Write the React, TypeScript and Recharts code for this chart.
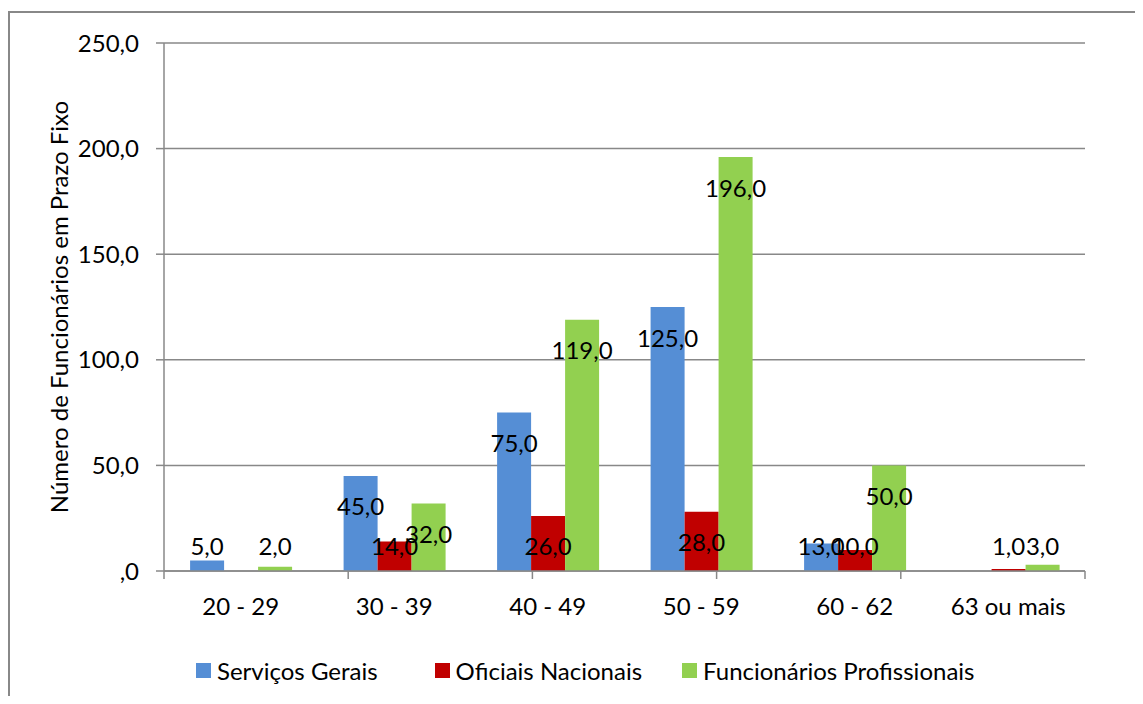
import React from 'react';
import { BarChart, Bar, XAxis, YAxis, CartesianGrid, Legend } from 'recharts';

const categories = ['20 - 29', '30 - 39', '40 - 49', '50 - 59', '60 - 62', '63 ou mais'];
const servicosGerais = [5, 45, 75, 125, 13, 0];
const oficiaisNacionais = [0, 14, 26, 28, 10, 1];
const funcionariosProfissionais = [2, 32, 119, 196, 50, 3];
const yTicks = [0, 50, 100, 150, 200, 250];
const boundaryTicks = [0, 1, 2, 3, 4, 5, 6];

const seriesNames = ['Serviços Gerais', 'Oficiais Nacionais', 'Funcionários Profissionais'];
const colors = ['#558ED5', '#C00000', '#92D050'];

const GRAY = '#888888';
const FONT = 'Lato, "Noto Sans", sans-serif';
const FS = 24;

const data = categories.map((name, i) => ({
  name,
  [seriesNames[0]]: servicosGerais[i],
  [seriesNames[1]]: oficiaisNacionais[i],
  [seriesNames[2]]: funcionariosProfissionais[i],
}));

// Excel-style number format: 0 -> ",0", 45 -> "45,0"
const fmt = (v: number) => (v === 0 ? ',0' : v.toFixed(1).replace('.', ','));

// labels sit inside the top of the bar, but never lower than a fixed line above the axis
const renderLabel = (props: any) => {
  const { x, y, width, height, value } = props;
  if (!value) return null;
  const bx = Number(x);
  const by = Number(y);
  const bottom = by + Number(height);
  const cy = Math.min(by + 30, bottom - 26);
  return (
    <text
      x={bx + Number(width) / 2}
      y={cy}
      textAnchor="middle"
      dominantBaseline="central"
      fontSize={FS}
      fill="#000"
      style={{ fontFamily: FONT }}
    >
      {fmt(Number(value))}
    </text>
  );
};

const legendGaps = [57, 40, 0];

const renderLegend = () => (
  <div style={{ display: 'flex', alignItems: 'center', fontFamily: FONT, fontSize: FS, color: '#000' }}>
    {seriesNames.map((s, i) => (
      <div key={s} style={{ display: 'flex', alignItems: 'center', marginRight: legendGaps[i] }}>
        <span style={{ width: 15, height: 15, background: colors[i], display: 'inline-block', marginRight: 6 }} />
        <span>{s}</span>
      </div>
    ))}
  </div>
);

const yLabel = (props: any) => {
  const vb = props.viewBox || {};
  const cx = vb.x + 30;
  const cy = vb.y + vb.height / 2;
  return (
    <text
      x={cx}
      y={cy}
      transform={`rotate(-90, ${cx}, ${cy})`}
      textAnchor="middle"
      dominantBaseline="central"
      fontSize={FS}
      fill="#000"
      style={{ fontFamily: FONT }}
    >
      Número de Funcionários em Prazo Fixo
    </text>
  );
};

export default function App() {
  return (
    <div style={{ position: 'relative', width: 1127, height: 688, fontFamily: FONT }}>
      <div
        style={{
          position: 'absolute',
          left: 0,
          top: 3,
          width: 1135,
          height: 693,
          borderLeft: `2px solid ${GRAY}`,
          borderTop: `2px solid ${GRAY}`,
          boxSizing: 'border-box',
          pointerEvents: 'none',
        }}
      />
      <BarChart
        width={1127}
        height={688}
        data={data}
        margin={{ top: 35, right: 50, left: 20, bottom: 84 }}
        barCategoryGap="17%"
        barGap={0}
      >
        <CartesianGrid xAxisId="a" vertical={false} stroke={GRAY} strokeWidth={1.5} />
        <XAxis
          xAxisId="a"
          type="number"
          domain={[0, 6]}
          ticks={boundaryTicks}
          height={1}
          tick={() => <g />}
          tickSize={8}
          axisLine={{ stroke: GRAY, strokeWidth: 1.5 }}
          tickLine={{ stroke: GRAY, strokeWidth: 1.5 }}
          allowDataOverflow
        />
        <XAxis
          xAxisId="cat"
          dataKey="name"
          height={40}
          tickLine={false}
          axisLine={false}
          tickSize={0}
          tickMargin={26}
          tick={{ fill: '#000', fontSize: FS }}
          interval={0}
        />
        <YAxis
          width={136}
          domain={[0, 250]}
          ticks={yTicks}
          tickFormatter={fmt}
          tickSize={8}
          tickMargin={17}
          tick={{ fill: '#000', fontSize: FS }}
          axisLine={{ stroke: GRAY, strokeWidth: 1.5 }}
          tickLine={{ stroke: GRAY, strokeWidth: 1.5 }}
          label={yLabel}
        />
        <Legend
          verticalAlign="middle"
          align="center"
          content={renderLegend}
          wrapperStyle={{ left: 188, top: 648, width: 900 }}
        />
        {seriesNames.map((s, i) => (
          <Bar
            key={s}
            xAxisId="cat"
            dataKey={s}
            fill={colors[i]}
            isAnimationActive={false}
            label={renderLabel}
          />
        ))}
      </BarChart>
    </div>
  );
}
